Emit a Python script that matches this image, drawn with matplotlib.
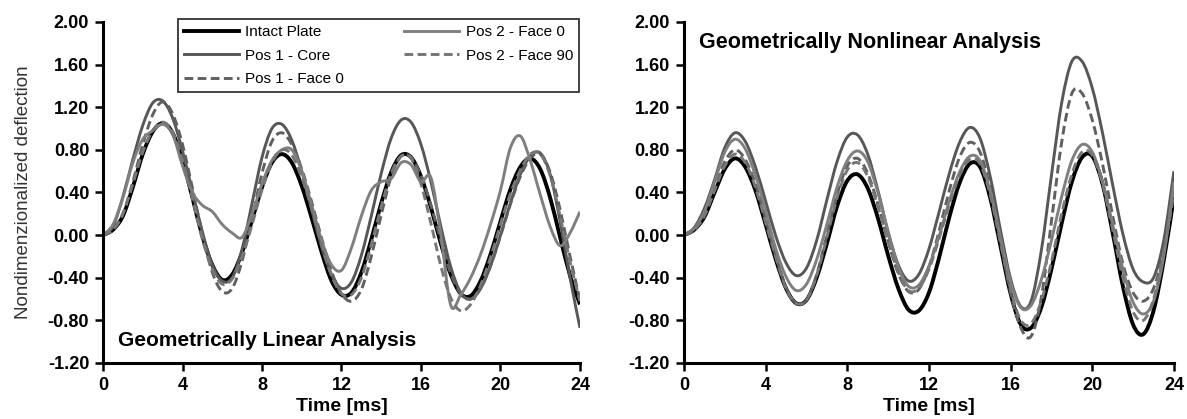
#!/usr/bin/env python
# deflection histories of the sandwich plate, linear vs nonlinear analysis
import numpy as np
import matplotlib.pyplot as plt
from matplotlib.path import Path
from matplotlib.patches import PathPatch
from matplotlib.lines import Line2D

plt.rcParams['font.family'] = ['Liberation Sans', 'DejaVu Sans']
plt.rcParams['axes.unicode_minus'] = False

t = np.arange(0, 24.01, 0.5)

# geometrically linear analysis
lin_intact = [0, 0.05, 0.18, 0.45, 0.76, 0.97, 1.05, 0.96, 0.70, 0.35, -0.01, -0.28, -0.42,
              -0.37, -0.16, 0.14, 0.45, 0.68, 0.76, 0.68, 0.46, 0.16, -0.16, -0.43, -0.56,
              -0.54, -0.35, -0.04, 0.30, 0.59, 0.75, 0.73, 0.55, 0.26, -0.08, -0.37, -0.55,
              -0.57, -0.43, -0.18, 0.13, 0.43, 0.64, 0.72, 0.62, 0.35, -0.02, -0.38, -0.65]
lin_p1_core = [0, 0.08, 0.36, 0.71, 1.03, 1.24, 1.26, 1.10, 0.79, 0.41, 0.03, -0.28, -0.43,
               -0.40, -0.13, 0.30, 0.73, 1.00, 1.04, 0.89, 0.60, 0.24, -0.11, -0.37, -0.50,
               -0.44, -0.19, 0.18, 0.58, 0.91, 1.08, 1.06, 0.85, 0.50, 0.08, -0.30, -0.54,
               -0.60, -0.50, -0.29, 0.00, 0.30, 0.57, 0.74, 0.77, 0.57, 0.13, -0.40, -0.87]
lin_p1_face0 = [0, 0.05, 0.20, 0.50, 0.85, 1.13, 1.25, 1.14, 0.85, 0.44, 0.01, -0.35, -0.53,
                -0.50, -0.24, 0.16, 0.58, 0.88, 0.96, 0.85, 0.62, 0.31, -0.03, -0.34, -0.55,
                -0.62, -0.51, -0.20, 0.19, 0.55, 0.74, 0.73, 0.56, 0.28, -0.05, -0.36, -0.55,
                -0.60, -0.50, -0.29, -0.01, 0.29, 0.55, 0.72, 0.76, 0.59, 0.24, -0.20, -0.61]
lin_p2_face0 = [0, 0.10, 0.35, 0.68, 0.90, 0.98, 1.04, 0.95, 0.65, 0.40, 0.28, 0.22, 0.10,
                0.02, -0.02, 0.20, 0.48, 0.70, 0.80, 0.80, 0.60, 0.28, -0.05, -0.28, -0.33,
                -0.12, 0.18, 0.42, 0.50, 0.53, 0.68, 0.66, 0.50, 0.54, 0.00, -0.66, -0.56,
                -0.40, -0.18, 0.10, 0.42, 0.82, 0.93, 0.70, 0.38, 0.08, -0.10, 0.02, 0.22]
lin_p2_face90 = [0, 0.05, 0.20, 0.48, 0.78, 0.98, 1.06, 0.97, 0.70, 0.34, -0.04, -0.32, -0.46,
                 -0.41, -0.20, 0.10, 0.43, 0.68, 0.80, 0.75, 0.54, 0.25, -0.09, -0.38, -0.55,
                 -0.56, -0.40, -0.09, 0.27, 0.58, 0.74, 0.72, 0.48, 0.11, -0.29, -0.59, -0.71,
                 -0.65, -0.47, -0.21, 0.10, 0.39, 0.61, 0.76, 0.76, 0.56, 0.18, -0.25, -0.62]

# geometrically nonlinear analysis
nl_intact = [0, 0.05, 0.17, 0.40, 0.62, 0.72, 0.64, 0.42, 0.10, -0.23, -0.50, -0.64, -0.61,
             -0.40, -0.08, 0.27, 0.51, 0.57, 0.44, 0.16, -0.19, -0.50, -0.70, -0.71, -0.54,
             -0.21, 0.17, 0.49, 0.67, 0.64, 0.35, -0.10, -0.55, -0.84, -0.87, -0.68, -0.32,
             0.11, 0.50, 0.73, 0.74, 0.48, 0.02, -0.48, -0.84, -0.93, -0.71, -0.24, 0.36]
nl_p1_core = [0, 0.07, 0.25, 0.52, 0.82, 0.96, 0.88, 0.64, 0.32, -0.01, -0.26, -0.38, -0.31,
              -0.05, 0.33, 0.69, 0.92, 0.94, 0.76, 0.42, 0.03, -0.28, -0.43, -0.37, -0.13,
              0.22, 0.58, 0.87, 1.01, 0.91, 0.55, 0.05, -0.41, -0.67, -0.62, -0.15, 0.56,
              1.24, 1.63, 1.63, 1.38, 0.96, 0.47, 0.01, -0.32, -0.44, -0.40, -0.05, 0.60]
nl_p1_face0 = [0, 0.05, 0.19, 0.44, 0.69, 0.80, 0.71, 0.48, 0.15, -0.20, -0.49, -0.64, -0.61,
               -0.37, 0.00, 0.38, 0.65, 0.72, 0.58, 0.29, -0.06, -0.36, -0.53, -0.51, -0.30,
               0.04, 0.42, 0.73, 0.87, 0.78, 0.44, -0.05, -0.54, -0.87, -0.95, -0.59, 0.13,
               0.87, 1.33, 1.33, 1.08, 0.67, 0.18, -0.27, -0.54, -0.62, -0.50, -0.15, 0.45]
nl_p2_face0 = [0, 0.06, 0.22, 0.50, 0.78, 0.90, 0.81, 0.56, 0.23, -0.13, -0.39, -0.52, -0.46,
               -0.23, 0.10, 0.45, 0.70, 0.79, 0.69, 0.40, 0.03, -0.30, -0.48, -0.47, -0.29,
               -0.01, 0.32, 0.59, 0.74, 0.70, 0.41, -0.02, -0.44, -0.68, -0.66, -0.42, -0.05,
               0.36, 0.70, 0.85, 0.78, 0.50, 0.10, -0.32, -0.63, -0.74, -0.62, -0.20, 0.50]
nl_p2_face90 = [0, 0.05, 0.18, 0.42, 0.65, 0.76, 0.68, 0.45, 0.12, -0.21, -0.50, -0.64, -0.61,
                -0.38, -0.02, 0.35, 0.61, 0.68, 0.55, 0.27, -0.06, -0.35, -0.52, -0.50, -0.32,
                -0.03, 0.29, 0.56, 0.71, 0.67, 0.38, -0.07, -0.51, -0.80, -0.83, -0.62, -0.25,
                0.20, 0.57, 0.78, 0.75, 0.48, 0.05, -0.40, -0.72, -0.80, -0.60, -0.17, 0.40]

labels = ['Intact Plate', 'Pos 1 - Core', 'Pos 1 - Face 0', 'Pos 2 - Face 0', 'Pos 2 - Face 90']
colors = ['black', '#575757', '#606060', '#7f7f7f', '#767676']
dashed = [False, False, True, False, True]
widths = [2.8, 2.1, 2.1, 2.1, 2.1]
DASH = (0, (3, 1.5))


def smooth_path(x, y):
    # excel style "smoothed line": bezier segments through the data points
    pts = np.column_stack([x, y])
    ext = np.vstack([pts[0], pts, pts[-1]])
    verts = [pts[0]]
    codes = [Path.MOVETO]
    for i in range(len(pts) - 1):
        p0, p1, p2, p3 = ext[i], ext[i + 1], ext[i + 2], ext[i + 3]
        verts += [p1 + (p2 - p0) / 6.0, p2 - (p3 - p1) / 6.0, p2]
        codes += [Path.CURVE4] * 3
    return Path(verts, codes)


fig = plt.figure(figsize=(11.87, 4.19), dpi=100)
ax1 = fig.add_axes([0.0868, 0.1337, 0.4018, 0.8138])
ax2 = fig.add_axes([0.5762, 0.1337, 0.4128, 0.8138])


def draw(ax, series):
    for y, c, d, lw in zip(series, colors, dashed, widths):
        ax.add_patch(PathPatch(smooth_path(t, y), fill=False, edgecolor=c, lw=lw,
                               ls=DASH if d else '-', capstyle='butt', joinstyle='round'))
    ax.set_xlim(0, 24)
    ax.set_ylim(-1.2, 2.0)
    ax.set_xticks(np.arange(0, 25, 4))
    yt = np.arange(-1.2, 2.01, 0.4)
    ax.set_yticks(yt)
    ax.set_yticklabels(['%.2f' % v for v in yt])
    for s in ['top', 'right']:
        ax.spines[s].set_visible(False)
    for s in ['left', 'bottom']:
        ax.spines[s].set_linewidth(2.2)
    ax.tick_params(direction='out', length=6, width=1.8, labelsize=13, pad=4)
    for lab in ax.get_xticklabels() + ax.get_yticklabels():
        lab.set_fontweight('bold')
    ax.set_xlabel('Time [ms]', fontsize=14, fontweight='bold', labelpad=3)


draw(ax1, [lin_intact, lin_p1_core, lin_p1_face0, lin_p2_face0, lin_p2_face90])
draw(ax2, [nl_intact, nl_p1_core, nl_p1_face0, nl_p2_face0, nl_p2_face90])

ax1.set_ylabel('Nondimenzionalized deflection', fontsize=13.5, color='#333333', labelpad=11)
ax1.text(0.031, 0.065, 'Geometrically Linear Analysis', transform=ax1.transAxes,
         fontsize=15, fontweight='bold', va='center')
ax2.text(0.03, 0.94, 'Geometrically Nonlinear Analysis', transform=ax2.transAxes,
         fontsize=15.5, fontweight='bold', va='center')

handles = [Line2D([], [], color=c, lw=lw, ls=DASH if d else '-')
           for c, d, lw in zip(colors, dashed, widths)]
leg = ax1.legend(handles, labels, ncol=2, loc='upper left',
                 bbox_to_anchor=(178 / 1187, 1 - 92 / 419, 401 / 1187, 73 / 419),
                 bbox_transform=fig.transFigure, mode='expand', fontsize=11, frameon=True,
                 fancybox=False, edgecolor='black', handlelength=3.6, handletextpad=0.4,
                 borderpad=0.4, labelspacing=0.62, borderaxespad=0)
leg.get_frame().set_linewidth(1.3)

fig.savefig('out.png', dpi=100)
